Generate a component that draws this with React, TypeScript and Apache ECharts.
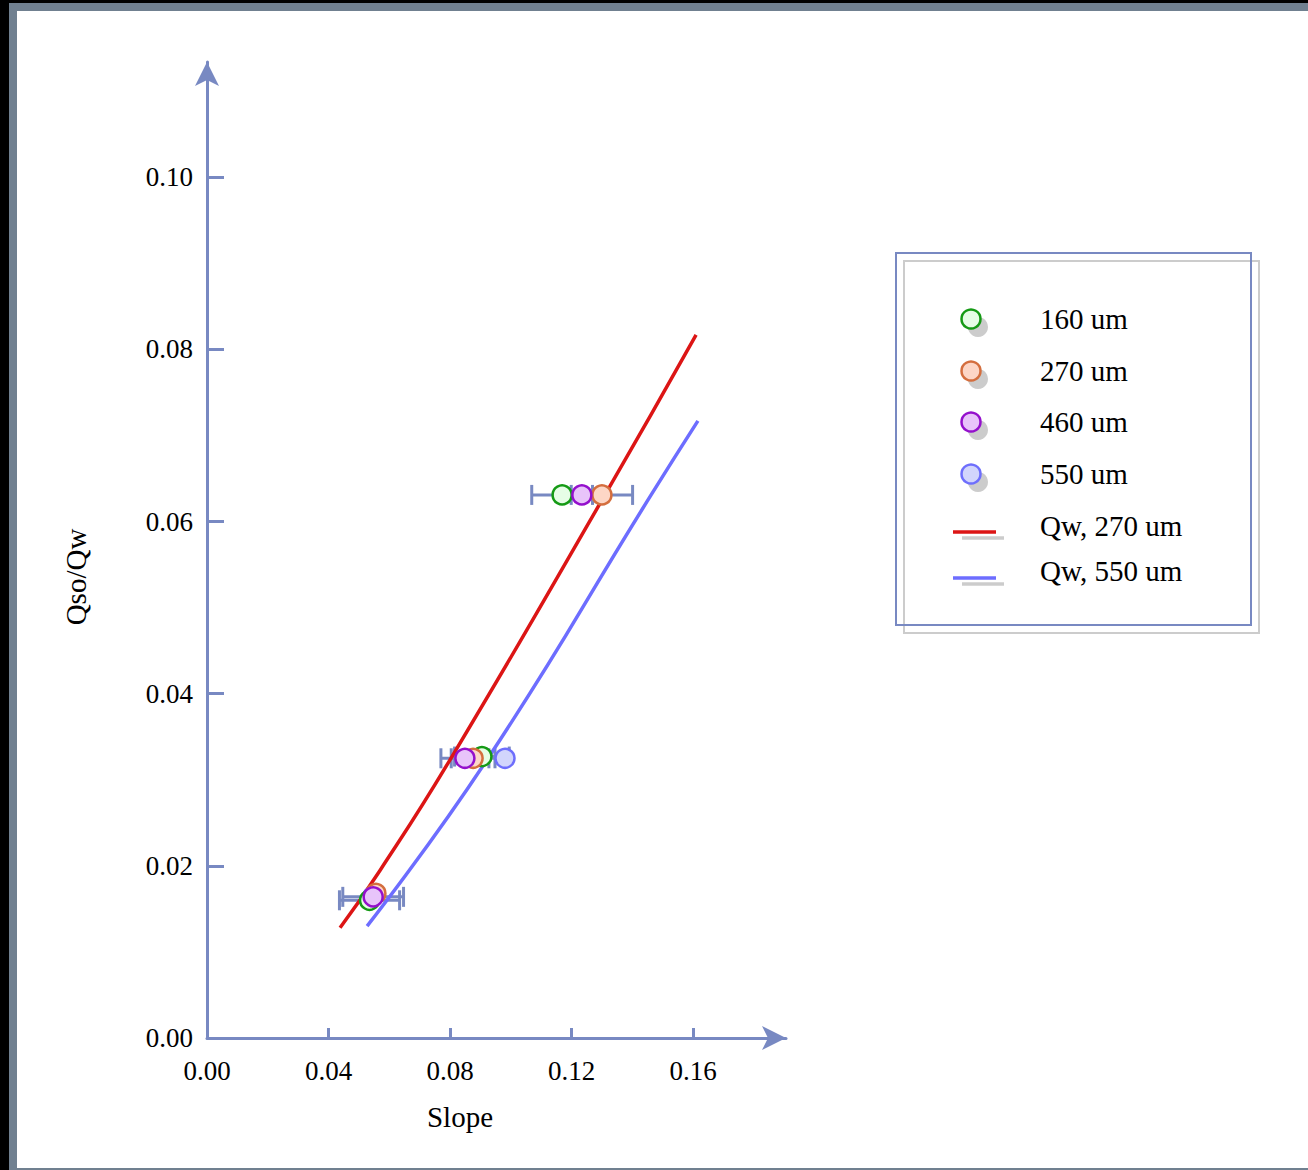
import React, { useEffect, useRef } from 'react';
import * as echarts from 'echarts';

// ---- data ----
const xTickValues = [0, 0.04, 0.08, 0.12, 0.16];
const yTickValues = [0, 0.02, 0.04, 0.06, 0.08, 0.1];

const seriesNames = ['160 um', '270 um', '460 um', '550 um'];

const slope160 = [0.0535, 0.0905, 0.1169];
const ratio160 = [0.016, 0.0327, 0.0631];
const err160 = [0.0099, 0.009, 0.01];

const slope270 = [0.0556, 0.0876, 0.13];
const ratio270 = [0.0168, 0.0325, 0.0631];
const err270 = [0, 0.0072, 0.0101];

const slope460 = [0.0547, 0.0849, 0.1234];
const ratio460 = [0.0164, 0.0325, 0.0631];
const err460 = [0.01, 0.0079, 0];

const slope550 = [0.0545, 0.0981];
const ratio550 = [0.0164, 0.0325];
const err550 = [0, 0];

const fitNames = ['Qw, 270 um', 'Qw, 550 um'];
const fitSlope270 = [0.0438, 0.057, 0.0803, 0.131, 0.161];
const fitRatio270 = [0.0128, 0.0195, 0.0325, 0.0631, 0.0817];
const fitSlope550 = [0.0527, 0.0925, 0.1462, 0.1616];
const fitRatio550 = [0.013, 0.0325, 0.0631, 0.0717];

// ---- styles ----
const AX = '#7889c2';
const FONT = 'Liberation Serif';
const markerStyles = [
  { fill: '#e6fde6', stroke: '#159a15' },
  { fill: '#fdd6c6', stroke: '#d46e3e' },
  { fill: '#e8c4fa', stroke: '#9410cc' },
  { fill: '#d2d5fc', stroke: '#6e6efc' },
];
const lineColors = ['#dc1515', '#6d6dff'];

const zip = (xs: number[], ys: number[]) => xs.map((x, i) => [x, ys[i]]);
const zip3 = (xs: number[], ys: number[], es: number[]) => xs.map((x, i) => [x, ys[i], es[i]]);

function buildOption() {
  const pointSets = [
    zip(slope160, ratio160),
    zip(slope270, ratio270),
    zip(slope460, ratio460),
    zip(slope550, ratio550),
  ];
  const errData = [
    ...zip3(slope160, ratio160, err160),
    ...zip3(slope270, ratio270, err270),
    ...zip3(slope460, ratio460, err460),
    ...zip3(slope550, ratio550, err550),
  ].filter((d) => d[2] > 0);

  const drawOrder = [3, 0, 1, 2];

  const legendY = [319, 371, 422, 474];
  const legendLineY = [532, 578];
  const legendTextY = [526, 571];

  const graphics: any[] = [
    { type: 'rect', shape: { x: 904, y: 261, width: 355, height: 372 }, style: { fill: 'none', stroke: '#cccccc', lineWidth: 2 }, z: 10 },
    { type: 'rect', shape: { x: 896, y: 253, width: 355, height: 372 }, style: { fill: 'none', stroke: AX, lineWidth: 2 }, z: 11 },
    { type: 'text', x: 460, y: 1117, style: { text: 'Slope', fill: '#000', font: `29px "${FONT}"`, align: 'center', verticalAlign: 'middle' }, z: 11 },
    { type: 'text', x: 76, y: 577, rotation: Math.PI / 2, style: { text: 'Qso/Qw', fill: '#000', font: `29px "${FONT}"`, align: 'center', verticalAlign: 'middle' }, z: 11 },
  ];
  seriesNames.forEach((name, i) => {
    const y = legendY[i];
    graphics.push({ type: 'circle', shape: { cx: 978, cy: y + 8, r: 10 }, style: { fill: '#cccccc' }, z: 11 });
    graphics.push({ type: 'circle', shape: { cx: 971, cy: y, r: 9.5 }, style: { fill: markerStyles[i].fill, stroke: markerStyles[i].stroke, lineWidth: 2.5 }, z: 12 });
    graphics.push({ type: 'text', x: 1040, y: y, style: { text: name, fill: '#000', font: `29px "${FONT}"`, align: 'left', verticalAlign: 'middle' }, z: 12 });
  });
  fitNames.forEach((name, i) => {
    const y = legendLineY[i];
    graphics.push({ type: 'line', shape: { x1: 962, y1: y + 6, x2: 1004, y2: y + 6 }, style: { stroke: '#cccccc', lineWidth: 3.5 }, z: 11 });
    graphics.push({ type: 'line', shape: { x1: 953, y1: y, x2: 996, y2: y }, style: { stroke: lineColors[i], lineWidth: 3.5 }, z: 12 });
    graphics.push({ type: 'text', x: 1040, y: legendTextY[i], style: { text: name, fill: '#000', font: `29px "${FONT}"`, align: 'left', verticalAlign: 'middle' }, z: 12 });
  });

  return {
    animation: false,
    backgroundColor: 'transparent',
    grid: { left: 207, top: 62, right: 522, bottom: 132, containLabel: false },
    xAxis: {
      type: 'value',
      min: 0,
      max: 0.1906,
      interval: 0.04,
      splitLine: { show: false },
      axisLine: { show: true, onZero: false, symbol: ['none', 'arrow'], symbolSize: [18, 24], lineStyle: { color: AX, width: 3 } },
      axisTick: { show: true, inside: true, length: 10, lineStyle: { color: AX, width: 3 }, customValues: xTickValues.slice(1) },
      axisLabel: {
        customValues: xTickValues,
        formatter: (v: number) => v.toFixed(2),
        color: '#000',
        fontFamily: FONT,
        fontSize: 27,
        margin: 19,
      },
    },
    yAxis: {
      type: 'value',
      min: 0,
      max: 0.1134,
      interval: 0.02,
      splitLine: { show: false },
      axisLine: { show: true, onZero: false, symbol: ['none', 'arrow'], symbolSize: [18, 24], lineStyle: { color: AX, width: 3 } },
      axisTick: { show: true, inside: true, length: 17, lineStyle: { color: AX, width: 3 }, customValues: yTickValues.slice(1) },
      axisLabel: {
        customValues: yTickValues,
        formatter: (v: number) => v.toFixed(2),
        color: '#000',
        fontFamily: FONT,
        fontSize: 27,
        margin: 14,
      },
    },
    graphic: graphics,
    series: [
      {
        type: 'custom',
        name: 'errors',
        z: 1,
        silent: true,
        data: errData,
        renderItem: (_p: any, api: any) => {
          const x = api.value(0);
          const y = api.value(1);
          const e = api.value(2);
          const l = api.coord([x - e, y]);
          const r = api.coord([x + e, y]);
          const style = { stroke: AX, lineWidth: 3, fill: 'none' };
          return {
            type: 'group',
            children: [
              { type: 'line', shape: { x1: l[0], y1: l[1], x2: r[0], y2: r[1] }, style },
              { type: 'line', shape: { x1: l[0], y1: l[1] - 10, x2: l[0], y2: l[1] + 10 }, style },
              { type: 'line', shape: { x1: r[0], y1: r[1] - 10, x2: r[0], y2: r[1] + 10 }, style },
            ],
          };
        },
      },
      {
        type: 'line',
        name: fitNames[0],
        z: 2,
        data: zip(fitSlope270, fitRatio270),
        smooth: true,
        showSymbol: false,
        lineStyle: { color: lineColors[0], width: 3.5 },
      },
      {
        type: 'line',
        name: fitNames[1],
        z: 2,
        data: zip(fitSlope550, fitRatio550),
        smooth: true,
        showSymbol: false,
        lineStyle: { color: lineColors[1], width: 3.5 },
      },
      ...drawOrder.map((i, k) => ({
        type: 'scatter',
        name: seriesNames[i],
        z: 3 + k,
        data: pointSets[i],
        symbol: 'circle',
        symbolSize: 19,
        itemStyle: { color: markerStyles[i].fill, borderColor: markerStyles[i].stroke, borderWidth: 2.5, opacity: 1 },
      })),
    ],
  };
}

export default function App() {
  const ref = useRef<HTMLDivElement>(null);
  useEffect(() => {
    const chart = echarts.init(ref.current!, null, { renderer: 'svg' });
    chart.setOption(buildOption() as any);
    return () => chart.dispose();
  }, []);
  return (
    <div style={{ position: 'fixed', left: 0, top: 0, width: 1308, height: 1170, background: '#000', overflow: 'hidden' }}>
      <div
        style={{
          position: 'absolute',
          left: 9,
          top: 3,
          width: 1400,
          height: 1173,
          boxSizing: 'border-box',
          border: '8px solid #708090',
          background: '#fff',
        }}
      />
      <div ref={ref} style={{ position: 'absolute', left: 0, top: 0, width: 1308, height: 1170 }} />
    </div>
  );
}
